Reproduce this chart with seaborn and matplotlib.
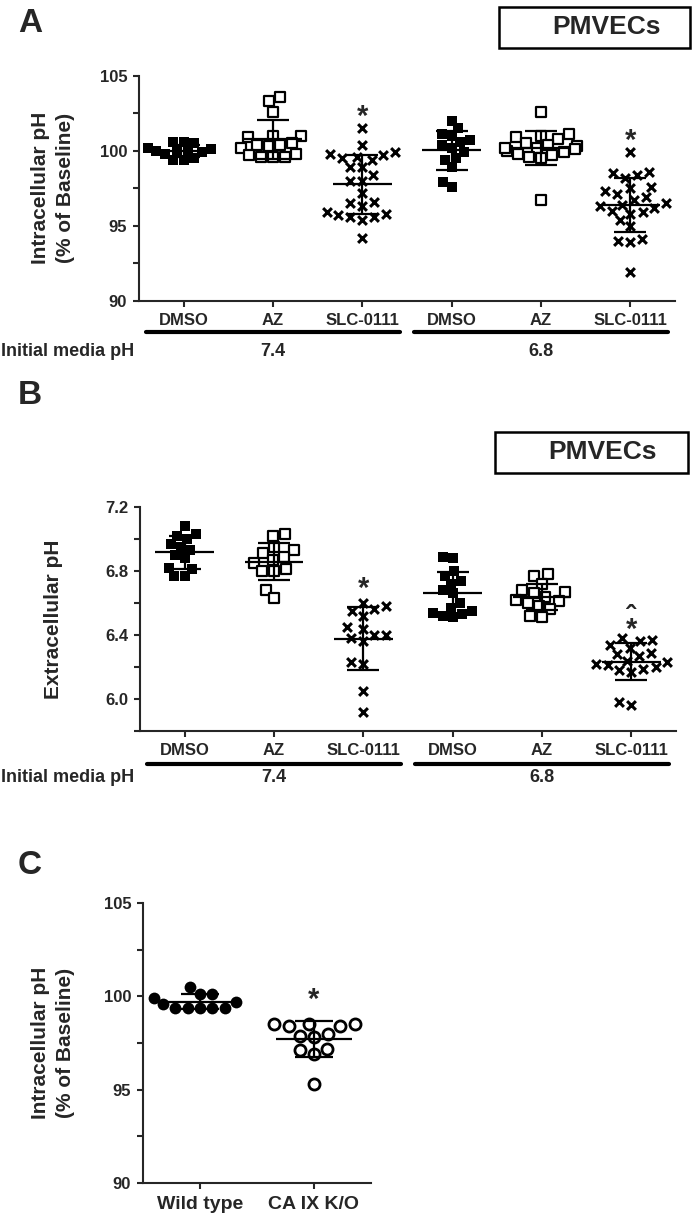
import warnings

import matplotlib.pyplot as plt
import matplotlib.transforms as mtransforms
import numpy as np
import pandas as pd
import seaborn as sns
from matplotlib.patches import Rectangle
from matplotlib.ticker import MultipleLocator

warnings.filterwarnings("ignore")

sns.set_style("ticks")
plt.rcParams["font.family"] = ["Liberation Sans", "DejaVu Sans"]
plt.rcParams["font.weight"] = "bold"
plt.rcParams["axes.labelweight"] = "bold"

W, H = 692, 1222

treatments = ["DMSO", "AZ", "SLC-0111"]
media_ph = ["7.4", "6.8"]
groups_ab = ["DMSO 7.4", "AZ 7.4", "SLC 7.4", "DMSO 6.8", "AZ 6.8", "SLC 6.8"]
kinds_ab = ["filled", "open", "cross", "filled", "open", "cross"]

# A: intracellular pH (% of baseline)
a_dmso_74 = [100.6, 100.6, 100.5, 100.0, 100.0, 100.0, 100.1, 99.9, 99.4, 99.4, 99.5, 100.2, 99.8]
a_az_74 = [103.6, 103.3, 102.6, 101.0, 101.0, 100.9, 100.5, 100.4, 100.3, 100.2, 100.4, 99.6, 99.7, 99.6, 99.6, 99.8]
a_slc_74 = [101.5, 100.4, 99.9, 99.8, 99.6, 99.4, 99.7, 99.5, 98.9, 98.9, 98.4, 98.0, 98.0, 97.2, 96.6, 96.5,
            96.3, 95.9, 95.8, 95.7, 95.6, 95.6, 95.4, 94.2]
a_dmso_68 = [102.0, 101.5, 101.1, 101.0, 100.7, 100.6, 100.4, 100.2, 99.9, 99.5, 99.4, 98.9, 97.9, 97.6]
a_az_68 = [102.6, 101.1, 101.0, 100.9, 100.8, 100.5, 100.4, 100.3, 100.2, 100.1, 100.0, 100.2, 99.9, 99.7,
           99.6, 99.5, 99.8, 96.7]
a_slc_68 = [99.9, 98.6, 98.5, 98.4, 98.2, 97.6, 97.5, 97.3, 97.1, 96.9, 96.7, 96.5, 96.4, 96.3, 96.2, 96.0,
            95.9, 95.8, 95.4, 95.0, 94.1, 94.0, 93.9, 91.9]

# B: extracellular pH
b_dmso_74 = [7.08, 7.03, 7.02, 7.00, 6.97, 6.95, 6.93, 6.90, 6.88, 6.82, 6.81, 6.77, 6.77]
b_az_74 = [7.03, 7.02, 6.95, 6.93, 6.91, 6.89, 6.87, 6.85, 6.81, 6.80, 6.80, 6.68, 6.63]
b_slc_74 = [6.60, 6.58, 6.56, 6.55, 6.52, 6.45, 6.44, 6.40, 6.40, 6.38, 6.36, 6.23, 6.22, 6.05, 5.92]
b_dmso_68 = [6.89, 6.88, 6.80, 6.77, 6.74, 6.72, 6.68, 6.66, 6.60, 6.57, 6.55, 6.54, 6.53, 6.52, 6.51]
b_az_68 = [6.78, 6.77, 6.72, 6.68, 6.67, 6.66, 6.64, 6.62, 6.61, 6.60, 6.58, 6.56, 6.52, 6.51]
b_slc_68 = [6.38, 6.37, 6.36, 6.34, 6.32, 6.29, 6.28, 6.27, 6.24, 6.23, 6.22, 6.21, 6.20, 6.19, 6.18, 6.17,
            5.98, 5.96]

# C: intracellular pH, knockout
groups_c = ["Wild type", "CA IX K/O"]
kinds_c = ["dot", "ring"]
c_wild = [100.5, 100.1, 100.1, 99.9, 99.7, 99.6, 99.4, 99.4, 99.4, 99.4, 99.4]
c_ko = [98.5, 98.5, 98.4, 98.5, 98.4, 98.0, 97.9, 97.8, 97.2, 97.1, 96.9, 95.3]

STYLES = {
    "filled": dict(marker="s", color="black", size=7, linewidth=0),
    "open": dict(marker="s", color="white", edgecolor="black", size=6.5, linewidth=1.6),
    "cross": dict(marker="x", color="black", size=6.3, linewidth=2.2),
    "dot": dict(marker="o", color="black", size=8.5, linewidth=0),
    "ring": dict(marker="o", color="white", edgecolor="black", size=8, linewidth=2.0),
}


def fx(x):
    return x / W


def fy(y):
    return 1 - y / H


def long_table(groups, kinds, series):
    rows = []
    for g, k, vals in zip(groups, kinds, series):
        for v in vals:
            rows.append({"group": g, "kind": k, "value": v})
    return pd.DataFrame(rows)


def scatter_panel(ax, data, order, cap=0.18, half=0.33):
    for kind in data["kind"].unique():
        sns.swarmplot(data=data[data["kind"] == kind], x="group", y="value", order=order, ax=ax,
                      zorder=3, **STYLES[kind])
    stats = data.groupby("group")["value"].agg(["mean", "std", "max"]).reindex(order)
    pos = np.arange(len(order))
    lw = 1.6
    ax.hlines(stats["mean"], pos - half, pos + half, color="black", lw=lw, zorder=5)
    ax.vlines(pos, stats["mean"] - stats["std"], stats["mean"] + stats["std"], color="black", lw=lw, zorder=5)
    ax.hlines(stats["mean"] + stats["std"], pos - cap, pos + cap, color="black", lw=lw, zorder=5)
    ax.hlines(stats["mean"] - stats["std"], pos - cap, pos + cap, color="black", lw=lw, zorder=5)
    return stats


def style_axis(ax, ylim, major, minor, fmt=None):
    sns.despine(ax=ax)
    ax.set_ylim(*ylim)
    ax.yaxis.set_major_locator(MultipleLocator(major))
    ax.yaxis.set_minor_locator(MultipleLocator(minor))
    if fmt:
        ax.yaxis.set_major_formatter(fmt)
    for s in ["left", "bottom"]:
        ax.spines[s].set_linewidth(1.5)
    ax.tick_params(which="both", direction="out", length=4.5, width=1.5, labelsize=12, pad=4)
    ax.set_xlabel("")
    ax.set_ylabel("")


def group_labels(fig, ax, y_line, y_text):
    tr = mtransforms.blended_transform_factory(ax.transData, fig.transFigure)
    for i, ph in enumerate(media_ph):
        x0, x1 = 3 * i - 0.42, 3 * i + 2.42
        ax.plot([x0, x1], [fy(y_line)] * 2, transform=tr, color="black", lw=3,
                solid_capstyle="round", clip_on=False)
        ax.text(3 * i + 1, fy(y_text), ph, transform=tr, ha="center", va="center", fontsize=13)
    fig.text(fx(1), fy(y_text), "Initial media pH", ha="left", va="center", fontsize=13)


def pmvecs_box(fig, x0, y0, x1, y1, tx, ty):
    fig.patches.append(Rectangle((fx(x0), fy(y1)), fx(x1) - fx(x0), fy(y0) - fy(y1),
                                 transform=fig.transFigure, fill=False, lw=1.8, ec="black"))
    fig.text(fx(tx), fy(ty), "PMVECs", ha="center", va="center", fontsize=19)


fig = plt.figure(figsize=(W / 100, H / 100), dpi=100)

# ---- panel A
axA = fig.add_axes([fx(139), fy(301), fx(675) - fx(139), (301 - 76) / H])
dfA = long_table(groups_ab, kinds_ab, [a_dmso_74, a_az_74, a_slc_74, a_dmso_68, a_az_68, a_slc_68])
stA = scatter_panel(axA, dfA, groups_ab)
style_axis(axA, (90, 105), 5, 2.5)
axA.set_xlim(-0.5, 5.5)
axA.set_xticks(range(6), treatments * 2)
for i in [2, 5]:
    axA.text(i, stA["max"].iloc[i] + 0.8, "*", ha="center", va="center", fontsize=21)
group_labels(fig, axA, 332, 352)
fig.text(fx(53), fy(188), "Intracellular pH\n(% of Baseline)", rotation=90, ha="center", va="center",
         fontsize=15, linespacing=1.35, multialignment="center")
fig.text(fx(30), fy(24), "A", ha="center", va="center", fontsize=24)
pmvecs_box(fig, 499, 7, 690, 48, 606, 27)

# ---- panel B
axB = fig.add_axes([fx(140), fy(731), fx(676) - fx(140), (731 - 507) / H])
dfB = long_table(groups_ab, kinds_ab, [b_dmso_74, b_az_74, b_slc_74, b_dmso_68, b_az_68, b_slc_68])
stB = scatter_panel(axB, dfB, groups_ab)
style_axis(axB, (5.8, 7.2), 0.4, 0.2, "{x:.1f}")
axB.set_xlim(-0.5, 5.5)
axB.set_xticks(range(6), treatments * 2)
axB.text(2, stB["max"].iloc[2] + 0.09, "*", ha="center", va="center", fontsize=21)
# caret (vs 7.4) stacked over the asterisk
axB.text(5, stB["max"].iloc[5], "\u02c6\n*", ha="center", va="baseline", fontsize=21,
         linespacing=0.3, multialignment="center")
group_labels(fig, axB, 764, 778)
fig.text(fx(54), fy(619), "Extracellular pH", rotation=90, ha="center", va="center", fontsize=15)
fig.text(fx(30), fy(396), "B", ha="center", va="center", fontsize=24)
pmvecs_box(fig, 495, 432, 688, 473, 602, 452)

# ---- panel C
axC = fig.add_axes([fx(143), fy(1183), fx(371) - fx(143), (1183 - 903) / H])
dfC = long_table(groups_c, kinds_c, [c_wild, c_ko])
stC = scatter_panel(axC, dfC, groups_c, cap=0.17, half=0.33)
style_axis(axC, (90, 105), 5, 2.5)
axC.set_xlim(-0.5, 1.5)
axC.set_xticks(range(2), groups_c)
axC.tick_params(axis="x", labelsize=14, pad=5)
axC.text(1, stC["max"].iloc[1] + 1.3, "*", ha="center", va="center", fontsize=21)
fig.text(fx(53), fy(1043), "Intracellular pH\n(% of Baseline)", rotation=90, ha="center", va="center",
         fontsize=15, linespacing=1.35, multialignment="center")
fig.text(fx(30), fy(865), "C", ha="center", va="center", fontsize=24)

fig.savefig("out.png", dpi=100)
